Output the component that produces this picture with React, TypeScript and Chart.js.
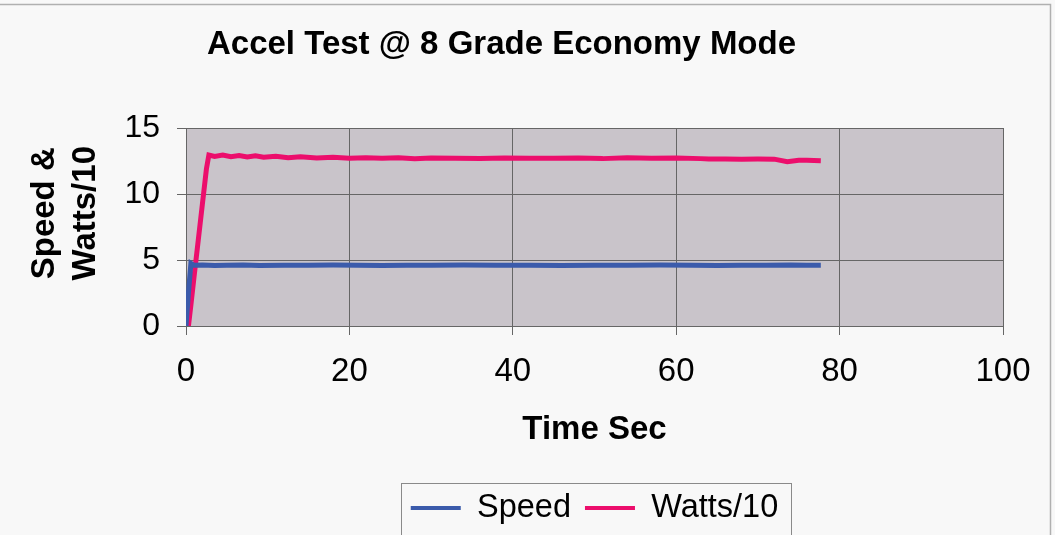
import React, { useEffect, useRef } from "react";
import { Chart, registerables } from "chart.js";

Chart.register(...registerables);

const titleText = "Accel Test @ 8 Grade Economy Mode";
const xAxisTitle = "Time Sec";
const yAxisTitle = ["   Speed &", "   Watts/10"];
const seriesNames = ["Speed", "Watts/10"];
const seriesColors = ["#3b5bab", "#ec0e6c"];

const speedTime = [0, 0.3, 0.6, 1.0, 2.0, 3.5, 5, 7, 9, 12, 15, 18, 21, 24, 27, 30, 34, 38, 42, 46, 50, 54, 58, 62, 65, 68, 71, 74, 76, 77.7];
const speedValues = [0, 2.5, 4.75, 4.6, 4.62, 4.58, 4.6, 4.62, 4.58, 4.6, 4.6, 4.62, 4.6, 4.58, 4.6, 4.6, 4.62, 4.6, 4.6, 4.58, 4.6, 4.6, 4.62, 4.6, 4.58, 4.6, 4.6, 4.62, 4.6, 4.6];

const wattsTime = [0, 0.3, 0.6, 1.0, 1.5, 2.0, 2.5, 2.8, 3.5, 4.5, 5.5, 6.5, 7.5, 8.5, 9.5, 11, 12.5, 14, 16, 18, 20, 22, 24, 26, 28, 30, 33, 36, 39, 42, 45, 48, 51, 54, 57, 60, 63, 64, 66, 68, 70, 72, 73.6, 75, 76, 77.7];
const wattsValues = [0, 0, 1.6, 3.8, 6.5, 9.2, 11.9, 12.95, 12.85, 12.95, 12.82, 12.92, 12.8, 12.9, 12.78, 12.86, 12.75, 12.82, 12.72, 12.78, 12.7, 12.74, 12.7, 12.74, 12.68, 12.72, 12.7, 12.68, 12.72, 12.7, 12.7, 12.72, 12.68, 12.74, 12.7, 12.72, 12.68, 12.65, 12.65, 12.64, 12.65, 12.64, 12.45, 12.55, 12.55, 12.52];

const xTickMin = 0;
const xTickMax = 100;
const xTickStep = 20;
const yTickMin = 0;
const yTickMax = 15;
const yTickStep = 5;

const FONT = "'Liberation Sans', Arial, sans-serif";

const bgPlugin = {
  id: "bgPlugin",
  beforeDraw(chart: any) {
    const { ctx, chartArea, width, height } = chart;
    ctx.save();
    ctx.fillStyle = "#f8f8f8";
    ctx.fillRect(0, 0, width, height);
    ctx.fillStyle = "#c9c4ca";
    ctx.fillRect(chartArea.left, chartArea.top, chartArea.right - chartArea.left, chartArea.bottom - chartArea.top);
    ctx.restore();
  },
  afterDraw(chart: any) {
    const { ctx } = chart;
    const lg = chart.legend;
    ctx.save();
    if (lg && lg.legendHitBoxes && lg.legendHitBoxes.length) {
      const hb = lg.legendHitBoxes;
      const first = hb[0];
      const last = hb[hb.length - 1];
      const l = first.left - 10;
      const r = last.left + last.width + 12;
      const t = lg.top + 5.25;
      const b = lg.bottom + 1;
      ctx.strokeStyle = "#8a8a8a";
      ctx.lineWidth = 1;
      ctx.strokeRect(Math.round(l) + 0.5, Math.round(t) + 0.5, Math.round(r - l), Math.round(b - t));
    }
    ctx.strokeStyle = "#b0b0b0";
    ctx.lineWidth = 1.5;
    ctx.strokeRect(-2, 4.5, 1052.5, 540);
    ctx.restore();
  },
};

export default function App() {
  const canvasRef = useRef<HTMLCanvasElement | null>(null);

  useEffect(() => {
    document.body.style.margin = "0";
    const canvas = canvasRef.current;
    if (!canvas) return;
    const chart = new Chart(canvas, {
      type: "line",
      data: {
        datasets: [
          {
            label: seriesNames[0],
            data: speedTime.map((t, i) => ({ x: t, y: speedValues[i] })),
            borderColor: seriesColors[0],
            backgroundColor: seriesColors[0],
            borderWidth: 5,
            pointRadius: 0,
            fill: false,
            tension: 0,
          },
          {
            label: seriesNames[1],
            data: wattsTime.map((t, i) => ({ x: t, y: wattsValues[i] })),
            borderColor: seriesColors[1],
            backgroundColor: seriesColors[1],
            borderWidth: 5,
            pointRadius: 0,
            fill: false,
            tension: 0,
          },
        ],
      },
      options: {
        responsive: false,
        animation: false,
        layout: { padding: { top: 0, bottom: 0.75, left: 0, right: 52 } },
        plugins: {
          title: {
            display: true,
            text: titleText,
            color: "#000",
            font: { family: FONT, size: 33, weight: "bold", lineHeight: 1.2 },
            padding: { top: 25.5, bottom: 62.9 },
          },
          legend: {
            display: true,
            position: "bottom",
            fullSize: false,
            labels: {
              color: "#000",
              font: { family: FONT, size: 32.5 },
              boxWidth: 50,
              boxHeight: 4,
              padding: 14,
              generateLabels: (ch: any) =>
                ch.data.datasets.map((ds: any, i: number) => ({
                  text: ds.label,
                  fillStyle: seriesColors[i],
                  strokeStyle: seriesColors[i],
                  lineWidth: 0,
                  fontColor: "#000",
                  hidden: false,
                  datasetIndex: i,
                })),
            },
          },
          tooltip: { enabled: false },
        },
        scales: {
          x: {
            type: "linear",
            min: xTickMin,
            max: xTickMax,
            afterFit: (s: any) => {
              s.height = 151.75;
            },
            ticks: {
              stepSize: xTickStep,
              color: "#000",
              font: { family: FONT, size: 33, lineHeight: 1.2 },
              padding: 17,
              maxRotation: 0,
            },
            grid: { color: "#666", lineWidth: 1, tickLength: 9, drawTicks: true },
            border: { color: "#666", width: 1 },
            title: {
              display: true,
              text: xAxisTitle,
              color: "#000",
              font: { family: FONT, size: 33, weight: "bold", lineHeight: 1.2 },
              padding: { top: 0, bottom: 27.95 },
            },
          },
          y: {
            type: "linear",
            min: yTickMin,
            max: yTickMax,
            afterFit: (s: any) => {
              s.width = 186;
            },
            ticks: {
              stepSize: yTickStep,
              color: "#000",
              font: { family: FONT, size: 32, lineHeight: 1.2 },
              padding: 17,
            },
            grid: { color: "#666", lineWidth: 1, tickLength: 9, drawTicks: true },
            border: { color: "#666", width: 1 },
            title: {
              display: true,
              text: yAxisTitle,
              color: "#000",
              font: { family: FONT, size: 33, weight: "bold", lineHeight: 1.25 },
              padding: { top: 24.4, bottom: 0 },
            },
          },
        },
      },
      plugins: [bgPlugin],
    });
    return () => chart.destroy();
  }, []);

  return (
    <div style={{ width: 1055, height: 535 }}>
      <canvas ref={canvasRef} width={1055} height={535} style={{ display: "block" }} />
    </div>
  );
}
